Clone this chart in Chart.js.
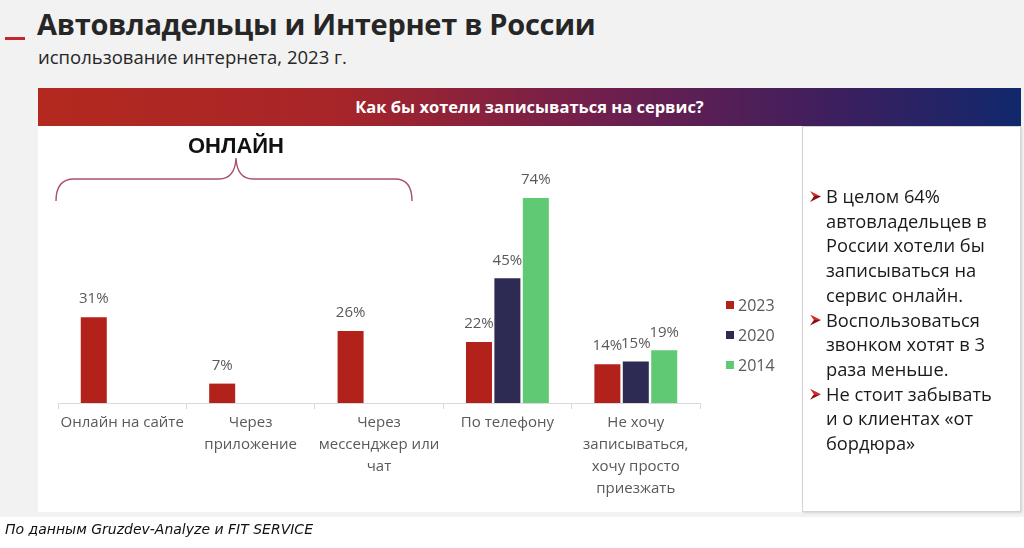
<!DOCTYPE html>
<html lang="ru">
<head>
    <meta charset="utf-8">
    <title>Автовладельцы и Интернет в России</title>

    <!--chart.js-->
    <script src="https://cdn.jsdelivr.net/npm/chart.js@4.4.1/dist/chart.umd.min.js"></script>

    <style>
        body {
            margin: 0;
            width: 1024px;
            height: 548px;
            background: #ffffff;
            font-family: "Open Sans", sans-serif;
            overflow: hidden;
            position: relative;
        }

        .slide {
            position: absolute;
            left: 0;
            top: 0;
            width: 1024px;
            height: 517px;
            background: #f2f2f2;
        }

        .dash {
            position: absolute;
            left: 5px;
            top: 37px;
            width: 20px;
            height: 3px;
            background: #c0282d;
        }

        .title {
            position: absolute;
            left: 37px;
            top: 4px;
            font-size: 29px;
            font-weight: 700;
            color: #262626;
            white-space: nowrap;
            letter-spacing: -0.3px;
        }

        .subtitle {
            position: absolute;
            left: 38px;
            top: 44px;
            font-size: 18.5px;
            color: #262626;
            white-space: nowrap;
        }

        .banner {
            position: absolute;
            left: 38px;
            top: 88px;
            width: 983px;
            height: 38px;
            line-height: 38px;
            text-align: center;
            color: #ffffff;
            font-weight: 700;
            font-size: 16.5px;
            background: linear-gradient(to right, #b3291f 0%, #a82528 30%, #6e1f4e 58%, #3b1f5f 82%, #10286c 100%);
        }

        .chartbox {
            position: absolute;
            left: 38px;
            top: 126px;
            width: 764px;
            height: 386px;
            background: #ffffff;
        }

        .online {
            position: absolute;
            left: 136px;
            top: 133px;
            width: 200px;
            text-align: center;
            font-family: "Liberation Sans", sans-serif;
            font-weight: 700;
            font-size: 22px;
            color: #111111;
        }

        .brace {
            position: absolute;
            left: 0;
            top: 0;
        }

        .note {
            position: absolute;
            left: 802px;
            top: 126px;
            width: 217px;
            height: 384px;
            background: #ffffff;
            border: 1px solid #d4d4d4;
            box-shadow: 1px 1px 2px rgba(0, 0, 0, 0.12);
        }

            .note ul {
                list-style: none;
                margin: 0;
                padding: 0;
                position: absolute;
                left: 7px;
                top: 57px;
            }

            .note li {
                position: relative;
                padding-left: 16px;
                font-size: 18.3px;
                line-height: 24.7px;
                color: #1a1a1a;
                white-space: nowrap;
            }

                /*矢じり型の箇条書き記号*/
                .note li::before {
                    content: "";
                    position: absolute;
                    left: 0;
                    top: 7px;
                    width: 11px;
                    height: 11px;
                    background: linear-gradient(to bottom, #d02a2a 0%, #d02a2a 50%, #8a0f14 50%, #8a0f14 100%);
                    clip-path: polygon(0 0, 100% 50%, 0 100%, 35% 50%);
                }

        .source {
            position: absolute;
            left: 5px;
            top: 521px;
            font-family: "DejaVu Sans", sans-serif;
            font-style: italic;
            font-size: 14px;
            color: #111111;
            white-space: nowrap;
        }
    </style>

    <script>
        //カテゴリ(複数行ラベル)
        const categories = [
            ["Онлайн на сайте"],
            ["Через", "приложение"],
            ["Через", "мессенджер или", "чат"],
            ["По телефону"],
            ["Не хочу", "записываться,", "хочу просто", "приезжать"]
        ];

        //各年の値(%)、nullは調査なし
        const values2023 = [31, 7, 26, 22, 14];
        const values2020 = [null, null, null, 45, 15];
        const values2014 = [null, null, null, 74, 19];

        const seriesNames = ["2023", "2020", "2014"];
        const seriesColors = ["#b3221a", "#2d2a54", "#60c974"];

        //棒の上に%を描く
        const valueLabels = {
            id: "valueLabels",
            afterDatasetsDraw(chart) {
                const ctx = chart.ctx;
                ctx.save();
                ctx.font = "15px 'Open Sans'";
                ctx.fillStyle = "#595959";
                ctx.textAlign = "center";
                ctx.textBaseline = "middle";
                chart.data.datasets.forEach((ds, i) => {
                    const meta = chart.getDatasetMeta(i);
                    meta.data.forEach((bar, j) => {
                        const v = ds.data[j];
                        if (v == null) { return; }
                        ctx.fillText(v + "%", bar.x, bar.y - 18);
                    });
                });
                ctx.restore();
            }
        };

        //凡例(右側、縦並び)
        const sideLegend = {
            id: "sideLegend",
            afterDraw(chart) {
                const ctx = chart.ctx;
                const area = chart.chartArea;
                ctx.save();
                ctx.font = "16px 'Open Sans'";
                ctx.textBaseline = "middle";
                chart.data.datasets.forEach((ds, i) => {
                    const x = area.right + 26;
                    const y = area.bottom - 98 + i * 30;
                    ctx.fillStyle = ds.backgroundColor;
                    ctx.fillRect(x, y - 4, 8, 8);
                    ctx.fillStyle = "#595959";
                    ctx.fillText(ds.label, x + 12, y + 1);
                });
                ctx.restore();
            }
        };

        window.addEventListener("load", function () {
            const ctx = document.getElementById("gr").getContext("2d");
            const allValues = [values2023, values2020, values2014];

            new Chart(ctx, {
                type: "bar",
                data: {
                    labels: categories,
                    datasets: seriesNames.map((name, i) => ({
                        label: name,
                        data: allValues[i],
                        backgroundColor: seriesColors[i],
                        categoryPercentage: 0.664,
                        barPercentage: 0.915
                    }))
                },
                options: {
                    responsive: false,
                    animation: false,
                    layout: { padding: { left: 20, right: 102, top: 0, bottom: 0 } },
                    plugins: {
                        legend: { display: false },
                        tooltip: { enabled: false }
                    },
                    scales: {
                        x: {
                            grid: {
                                offset: true,
                                drawOnChartArea: false,
                                drawTicks: true,
                                tickLength: 6,
                                color: "#d9d9d9"
                            },
                            border: { display: true, color: "#d9d9d9" },
                            ticks: {
                                color: "#595959",
                                font: { family: "'Open Sans'", size: 15, lineHeight: 1.47 },
                                maxRotation: 0,
                                autoSkip: false,
                                padding: 3
                            },
                            afterFit(scale) { scale.height = 109; }
                        },
                        y: {
                            display: false,
                            min: 0,
                            max: 100
                        }
                    }
                },
                plugins: [valueLabels, sideLegend]
            });
        });
    </script>
</head>

<body>
    <div class="slide"></div>
    <div class="dash"></div>
    <div class="title">Автовладельцы и Интернет в России</div>
    <div class="subtitle">использование интернета, 2023 г.</div>
    <div class="banner">Как бы хотели записываться на сервис?</div>

    <div class="chartbox">
        <canvas id="gr" width="764" height="386"></canvas>
    </div>

    <!--「オンライン」の括弧-->
    <svg class="brace" width="1024" height="548">
        <path d="M56,201 Q56,179 74,179 L219,179 Q235,179 236,158 Q237,179 253,179 L395,179 Q412,179 412,201"
              fill="none" stroke="#a9506e" stroke-width="1.4" />
    </svg>
    <div class="online">ОНЛАЙН</div>

    <div class="note">
        <ul>
            <li>В целом 64%<br>автовладельцев в<br>России хотели бы<br>записываться на<br>сервис онлайн.</li>
            <li>Воспользоваться<br>звонком хотят в 3<br>раза меньше.</li>
            <li>Не стоит забывать<br>и о клиентах «от<br>бордюра»</li>
        </ul>
    </div>

    <div class="source">По данным Gruzdev-Analyze и FIT SERVICE</div>
</body>
</html>
